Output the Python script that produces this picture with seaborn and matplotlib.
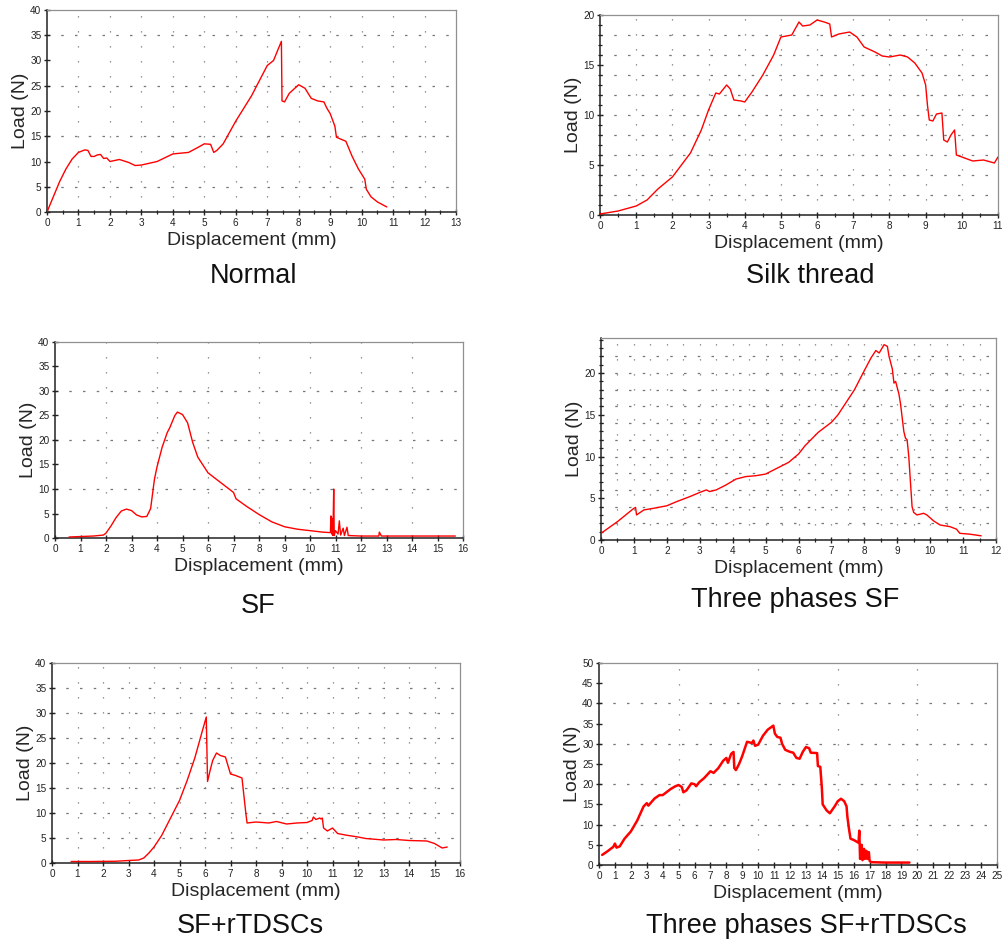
import numpy as np
import pandas as pd
import matplotlib
matplotlib.use("Agg")
import matplotlib.pyplot as plt
import seaborn as sns
from matplotlib.ticker import MultipleLocator

# ---------------- data ----------------
normal_x = [0, 0.2, 0.4, 0.6, 0.8, 1.0, 1.2, 1.3, 1.4, 1.5, 1.6, 1.7, 1.8, 1.9, 2.0, 2.3, 2.6, 2.8, 3.0,
            3.5, 4.0, 4.5, 4.8, 5.0, 5.2, 5.3, 5.4, 5.6, 6.0, 6.5, 7.0, 7.2, 7.45, 7.47, 7.55, 7.7, 8.0,
            8.2, 8.4, 8.6, 8.8, 8.9, 9.0, 9.15, 9.2, 9.5, 9.7, 9.9, 10.1, 10.15, 10.3, 10.5, 10.8]
normal_y = [0, 3, 6, 8.5, 10.5, 11.8, 12.3, 12.2, 11.0, 11.0, 11.3, 11.4, 10.6, 10.7, 10.0, 10.4, 9.8, 9.2, 9.3,
            10.0, 11.5, 11.8, 12.8, 13.5, 13.4, 11.8, 12.2, 13.5, 18.0, 23.0, 29.0, 30.0, 33.8, 22.0, 21.8, 23.5, 25.2,
            24.5, 22.5, 22.0, 21.8, 20.5, 19.5, 17.0, 14.8, 14.0, 11.0, 8.5, 6.5, 4.5, 3.0, 2.0, 1.0]

silk_x = [0, 0.5, 1.0, 1.3, 1.6, 2.0, 2.5, 2.8, 3.0, 3.2, 3.3, 3.5, 3.6, 3.7, 3.9, 4.0, 4.2, 4.5, 4.8, 5.0,
          5.3, 5.5, 5.6, 5.8, 6.0, 6.2, 6.35, 6.4, 6.6, 6.9, 7.1, 7.3, 7.6, 7.8, 8.0, 8.3, 8.5, 8.7, 8.9,
          9.0, 9.05, 9.1, 9.2, 9.3, 9.45, 9.5, 9.6, 9.7, 9.8, 9.85, 10.0, 10.3, 10.6, 10.9, 11.0]
silk_y = [0.1, 0.4, 0.9, 1.5, 2.6, 3.8, 6.2, 8.5, 10.5, 12.2, 12.1, 13.0, 12.6, 11.5, 11.4, 11.3, 12.3, 14.0, 16.0, 17.8,
          18.0, 19.3, 18.9, 19.0, 19.5, 19.3, 19.1, 17.8, 18.1, 18.3, 17.8, 16.8, 16.3, 15.9, 15.8, 16.0, 15.8, 15.2, 14.2,
          13.0, 11.0, 9.5, 9.4, 10.1, 10.2, 7.5, 7.3, 8.0, 8.5, 6.0, 5.8, 5.4, 5.5, 5.2, 5.8]

sf_x = [0.55, 1.0, 1.5, 1.9, 2.0, 2.2, 2.4, 2.6, 2.8, 3.0, 3.2, 3.4, 3.6, 3.75, 3.9, 4.0, 4.2, 4.4, 4.5, 4.7,
        4.8, 5.0, 5.2, 5.4, 5.6, 6.0, 6.5, 7.0, 7.1, 7.5, 8.0, 8.5, 9.0, 9.5, 10.0, 10.5, 10.8, 10.82, 10.85,
        10.88, 10.9, 10.93, 10.95, 11.0, 11.1, 11.15, 11.2, 11.3, 11.35, 11.45, 11.5, 12.0, 12.7, 12.72, 12.8, 15.7]
sf_y = [0.2, 0.3, 0.4, 0.6, 1.0, 2.5, 4.2, 5.5, 5.9, 5.6, 4.7, 4.3, 4.4, 6.0, 12.0, 14.5, 18.5, 21.5, 22.5, 25.0,
        25.7, 25.2, 23.5, 19.5, 16.5, 13.3, 11.3, 9.3, 8.0, 6.5, 4.8, 3.3, 2.3, 1.8, 1.5, 1.2, 1.1, 4.5, 0.8,
        4.0, 0.5, 10.0, 0.5, 1.5, 0.8, 3.5, 0.6, 2.0, 0.5, 2.2, 0.5, 0.4, 0.4, 1.2, 0.4, 0.4]

tp_x = [0, 0.5, 1.0, 1.05, 1.08, 1.3, 1.6, 2.0, 2.3, 2.7, 3.0, 3.2, 3.3, 3.5, 3.8, 4.1, 4.4, 4.7, 5.0, 5.3,
        5.7, 6.0, 6.2, 6.6, 6.8, 7.0, 7.2, 7.5, 7.7, 8.0, 8.2, 8.35, 8.45, 8.6, 8.7, 8.75, 8.85, 8.9, 8.95,
        9.05, 9.1, 9.2, 9.25, 9.3, 9.35, 9.4, 9.45, 9.5, 9.6, 9.8, 9.9, 10.1, 10.3, 10.6, 10.8, 10.9, 11.2, 11.55]
tp_y = [0.8, 2.2, 3.8, 3.9, 3.0, 3.6, 3.8, 4.1, 4.6, 5.2, 5.7, 6.0, 5.8, 6.0, 6.6, 7.3, 7.6, 7.7, 7.9, 8.5,
        9.3, 10.3, 11.3, 12.9, 13.5, 14.1, 15.0, 16.8, 18.0, 20.3, 21.8, 22.7, 22.4, 23.4, 23.2, 22.0, 20.5, 18.8, 19.0,
        17.5, 16.3, 13.0, 12.2, 12.0, 10.0, 7.0, 4.0, 3.3, 3.0, 3.2, 3.0, 2.3, 1.8, 1.6, 1.3, 0.8, 0.7, 0.5]

sfr_x = [0.75, 1.5, 2.5, 3.0, 3.4, 3.6, 3.8, 4.0, 4.3, 4.6, 5.0, 5.3, 5.6, 5.9, 6.05, 6.1, 6.2, 6.3, 6.45, 6.6,
         6.8, 6.9, 7.0, 7.2, 7.45, 7.6, 7.65, 8.0, 8.5, 8.8, 9.2, 9.6, 10.0, 10.2, 10.25, 10.35, 10.5, 10.55, 10.6,
         10.65, 10.8, 11.0, 11.2, 11.5, 12.0, 12.3, 13.0, 13.5, 14.0, 14.7, 15.0, 15.3, 15.5]
sfr_y = [0.3, 0.3, 0.35, 0.5, 0.6, 1.0, 2.0, 3.2, 5.5, 8.5, 12.5, 16.5, 21.0, 26.5, 29.2, 16.3, 18.5, 20.5, 22.0, 21.5,
         21.2, 19.5, 17.8, 17.5, 17.0, 10.0, 8.0, 8.2, 8.0, 8.3, 7.8, 8.0, 8.1, 8.5, 9.2, 8.7, 9.0, 8.8, 9.0,
         7.0, 6.4, 7.0, 5.9, 5.6, 5.2, 4.9, 4.6, 4.7, 4.5, 4.4, 3.9, 3.0, 3.2]

tpr_x = [0.2, 0.5, 0.9, 1.0, 1.1, 1.3, 1.6, 2.0, 2.4, 2.8, 3.0, 3.1, 3.5, 3.8, 4.0, 4.5, 4.8, 5.0, 5.2, 5.3,
         5.5, 5.8, 6.0, 6.1, 6.3, 6.6, 7.0, 7.2, 7.5, 7.8, 8.0, 8.1, 8.3, 8.45, 8.5, 8.6, 8.8, 9.0, 9.3, 9.6,
         9.7, 9.8, 10.0, 10.3, 10.6, 10.95, 11.05, 11.2, 11.4, 11.5, 11.7, 12.0, 12.2, 12.4, 12.6, 12.8, 13.0, 13.2,
         13.3, 13.7, 13.75, 13.9, 14.0, 14.05, 14.3, 14.5, 14.8, 15.0, 15.2, 15.4, 15.55, 15.6, 15.7, 15.8, 16.0,
         16.3, 16.35, 16.4, 16.5, 16.55, 16.65, 16.7, 16.8, 16.85, 16.95, 17.0, 17.1, 18.0, 19.0, 19.5]
tpr_y = [2.5, 3.3, 4.5, 5.3, 4.3, 4.6, 6.5, 8.3, 11.0, 14.5, 15.3, 14.7, 16.5, 17.3, 17.3, 18.8, 19.5, 19.8, 19.3, 18.0,
         18.5, 20.2, 20.0, 19.5, 20.5, 21.5, 23.2, 22.8, 24.0, 25.8, 26.5, 25.3, 27.5, 28.0, 24.0, 23.5, 25.0, 27.0, 30.5, 30.2,
         30.8, 29.5, 29.8, 32.0, 33.5, 34.5, 32.5, 31.7, 31.5, 30.0, 28.5, 28.0, 27.8, 26.5, 26.3, 28.0, 29.2, 28.9,
         27.8, 27.7, 24.5, 24.3, 19.0, 15.0, 13.5, 12.8, 14.5, 15.8, 16.4, 15.8, 14.5, 12.0, 9.0, 6.5, 6.2,
         5.5, 8.5, 1.5, 5.0, 1.2, 4.0, 1.5, 3.5, 1.5, 3.2, 1.0, 0.7, 0.6, 0.6, 0.6]

titles = ["Normal", "Silk thread", "SF", "Three phases SF", "SF+rTDSCs", "Three phases SF+rTDSCs"]
xlabel = "Displacement (mm)"
ylabel = "Load (N)"

# ---------------- styling ----------------
sns.set_style("white")
plt.rcParams['font.family'] = ['Liberation Sans', 'DejaVu Sans']

W, H = 1005, 942
fig = plt.figure(figsize=(W / 100, H / 100), dpi=100)

# pixel boxes: left, right, top, bottom
boxes = [(47, 456, 10, 212), (600, 998, 15, 215),
         (55, 463, 342, 538), (601, 996, 338, 540),
         (52, 460, 663, 863), (599, 997, 663, 865)]
title_pos = [(253, 276), (810, 276), (258, 606), (795, 600), (250, 926), (806, 926)]

specs = [
    dict(x=normal_x, y=normal_y, xlim=(0, 13), ylim=(0, 40), xmaj=1, xmin=0.5, ymaj=5, ymin=None,
         vg=np.arange(1, 13, 1), hg=np.arange(5, 40, 10), lw=1.0),
    dict(x=silk_x, y=silk_y, xlim=(0, 11), ylim=(0, 20), xmaj=1, xmin=0.5, ymaj=5, ymin=1,
         vg=np.arange(1, 11, 1), hg=np.arange(2, 20, 2), lw=1.0),
    dict(x=sf_x, y=sf_y, xlim=(0, 16), ylim=(0, 40), xmaj=1, xmin=None, ymaj=5, ymin=None,
         vg=np.arange(2, 16, 2), hg=np.arange(10, 40, 10), lw=1.0),
    dict(x=tp_x, y=tp_y, xlim=(0, 12), ylim=(0, 24.2), xmaj=1, xmin=0.5, ymaj=5, ymin=1,
         vg=np.arange(0.5, 12, 0.5), hg=np.arange(2, 24, 2), lw=1.0),
    dict(x=sfr_x, y=sfr_y, xlim=(0, 16), ylim=(0, 40), xmaj=1, xmin=None, ymaj=5, ymin=None,
         vg=np.arange(1, 16, 1), hg=np.arange(5, 40, 5), lw=1.0),
    dict(x=tpr_x, y=tpr_y, xlim=(0, 25), ylim=(0, 50), xmaj=1, xmin=None, ymaj=5, ymin=None,
         vg=np.arange(5, 25, 5), hg=np.arange(10, 50, 10), lw=1.8),
]

for sp, (l, r, t, b), ttl, (tx, ty) in zip(specs, boxes, titles, title_pos):
    ax = fig.add_axes([l / W, 1 - b / H, (r - l) / W, (b - t) / H])
    df = pd.DataFrame({"x": sp["x"], "y": sp["y"]})
    for v in sp["vg"]:
        ax.axvline(v, color="#777777", lw=0.9, ls=(0, (1.0, 11)), zorder=0)
    for h in sp["hg"]:
        ax.axhline(h, color="#777777", lw=0.9, ls=(0, (2.0, 9)), zorder=0)
    sns.lineplot(data=df, x="x", y="y", ax=ax, color="#ff0000", lw=sp["lw"],
                 sort=False, estimator=None, zorder=3)
    ax.set_xlim(*sp["xlim"])
    ax.set_ylim(*sp["ylim"])
    ax.xaxis.set_major_locator(MultipleLocator(sp["xmaj"]))
    ax.yaxis.set_major_locator(MultipleLocator(sp["ymaj"]))
    if sp["xmin"]:
        ax.xaxis.set_minor_locator(MultipleLocator(sp["xmin"]))
    if sp["ymin"]:
        ax.yaxis.set_minor_locator(MultipleLocator(sp["ymin"]))
    ax.tick_params(which="major", direction="inout", length=5, width=1.0, color="#222222",
                   labelsize=7.2, pad=1.5, labelcolor="#222222", bottom=True, left=True)
    ax.tick_params(which="minor", direction="inout", length=3.5, width=0.9, color="#222222",
                   bottom=True, left=True)
    ax.set_xlabel(xlabel, fontsize=14, labelpad=3)
    ax.set_ylabel(ylabel, fontsize=14, labelpad=1)
    for s in ["left", "bottom"]:
        ax.spines[s].set_color("#222222")
        ax.spines[s].set_linewidth(1.1)
    for s in ["top", "right"]:
        ax.spines[s].set_color("#909090")
        ax.spines[s].set_linewidth(0.9)
    ax.set_facecolor("white")
    fig.text(tx / W, 1 - ty / H, ttl, fontsize=19.5, ha="center", va="center", color="#111111")

fig.savefig("out.png", dpi=100, facecolor="white")
